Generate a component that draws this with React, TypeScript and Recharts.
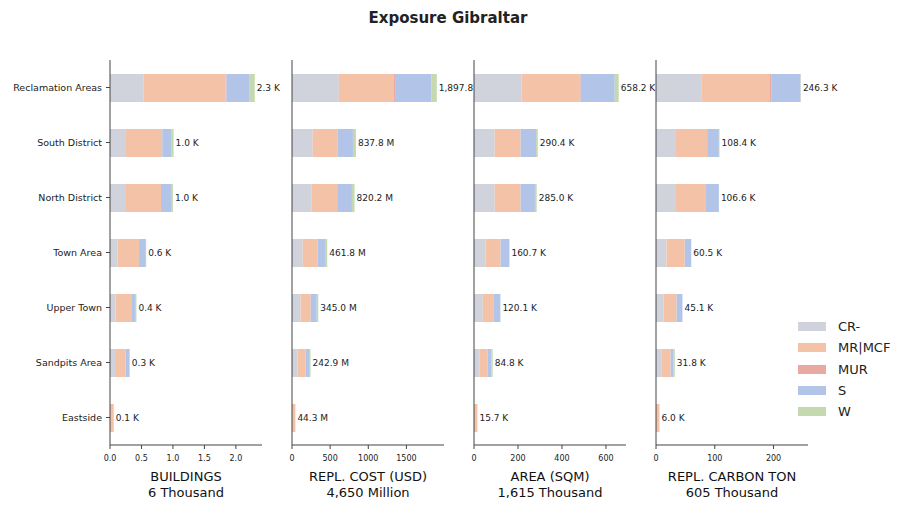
import { BarChart, Bar, XAxis, YAxis, LabelList } from 'recharts'

const categories = [
  'Reclamation Areas',
  'South District',
  'North District',
  'Town Area',
  'Upper Town',
  'Sandpits Area',
  'Eastside',
]

const seriesNames = ['CR-', 'MR|MCF', 'MUR', 'S', 'W']

const SERIES_COLORS: Record<string, string> = {
  'CR-': '#d0d3dc',
  'MR|MCF': '#f4c3a7',
  MUR: '#e8a9a3',
  S: '#b2c5e8',
  W: '#c5d9b1',
}

// buildings, thousands
const buildingsCR = [0.53, 0.24, 0.24, 0.12, 0.09, 0.08, 0]
const buildingsMR = [1.31, 0.59, 0.57, 0.34, 0.26, 0.17, 0.06]
const buildingsMUR = [0.01, 0, 0, 0, 0, 0, 0]
const buildingsS = [0.37, 0.15, 0.16, 0.11, 0.06, 0.06, 0]
const buildingsW = [0.08, 0.03, 0.03, 0.005, 0.01, 0.005, 0]
const buildingsTotal = [2.3, 1.0, 1.0, 0.6, 0.4, 0.3, 0.1]

// replacement cost, million USD
const costCR = [614, 272, 259, 141, 114, 71, 0]
const costMR = [724, 329, 333, 197, 132, 109, 44.3]
const costMUR = [13, 0, 0, 0, 0, 0, 0]
const costS = [474, 198, 194, 105, 79, 53, 0]
const costW = [73, 39, 34, 19, 20, 10, 0]
const costTotal = [1897.8, 837.8, 820.2, 461.8, 345.0, 242.9, 44.3]

// area, thousand sqm
const areaCR = [217, 94, 94, 52, 40, 26, 0]
const areaMR = [263, 118, 118, 69, 48, 35, 15.7]
const areaMUR = [5, 0, 0, 0, 0, 0, 0]
const areaS = [155, 70, 65, 40, 32, 19, 0]
const areaW = [18, 8, 8, 0, 0, 5, 0]
const areaTotal = [658.2, 290.4, 285.0, 160.7, 120.1, 84.8, 15.7]

// replacement carbon, thousand ton
const carbonCR = [78, 34, 34, 18, 13, 10, 0]
const carbonMR = [116, 53, 51, 31, 22, 15, 6]
const carbonMUR = [2, 0, 0, 0, 0, 0, 0]
const carbonS = [50, 20, 22, 11, 10, 5, 0]
const carbonW = [0.5, 1, 0, 0, 0, 2, 0]
const carbonTotal = [246.3, 108.4, 106.6, 60.5, 45.1, 31.8, 6.0]

const buildingsTicks = [0, 0.5, 1, 1.5, 2]
const costTicks = [0, 500, 1000, 1500]
const areaTicks = [0, 200, 400, 600]
const carbonTicks = [0, 100, 200]

const FONT = '"DejaVu Sans", sans-serif'
const PLOT_TOP = 60
const PLOT_BOTTOM = 445
const PLOT_W = 152
const CHART_H = 510

function buildRows(cols: number[][]) {
  return categories.map((name, i) => {
    const row: Record<string, string | number> = { name }
    seriesNames.forEach((s, j) => {
      row[s] = cols[j][i]
    })
    return row
  })
}

// y tick without recharts' word wrapping
function NameTick(props: any) {
  const { x, y, payload } = props
  return (
    <text x={x} y={y} textAnchor="end" dominantBaseline="central" fontSize={9.5} fill="#222" fontFamily={FONT}>
      {payload.value}
    </text>
  )
}

interface PanelProps {
  left: number
  cols: number[][]
  totals: number[]
  ticks: number[]
  tickFmt: (v: number) => string
  labelFmt: (v: number) => string
  title: string
  subtitle: string
  showNames?: boolean
}

function Panel({ left, cols, totals, ticks, tickFmt, labelFmt, title, subtitle, showNames }: PanelProps) {
  const rows = buildRows(cols)
  const yW = showNames ? left : 20
  const max = Math.max(...totals) * 1.05

  const renderTotal = (props: any) => {
    const { x, y, width, height, index } = props
    return (
      <text
        x={Number(x) + Number(width) + 2}
        y={Number(y) + Number(height) / 2}
        dominantBaseline="central"
        fontSize={9}
        fill="#222"
        fontFamily={FONT}
      >
        {labelFmt(totals[index])}
      </text>
    )
  }

  return (
    <>
      {!showNames && (
        <div
          style={{
            position: 'absolute',
            left,
            top: PLOT_TOP,
            width: PLOT_W,
            height: PLOT_BOTTOM - PLOT_TOP,
            background: '#fff',
          }}
        />
      )}
      <div style={{ position: 'absolute', left: left - yW, top: 0 }}>
        <BarChart
          layout="vertical"
          width={yW + PLOT_W + 70}
          height={CHART_H}
          data={rows}
          barSize={28}
          margin={{ top: PLOT_TOP, right: 70, bottom: 0, left: 0 }}
          style={{ fontFamily: FONT }}
        >
          <XAxis
            type="number"
            domain={[0, max]}
            ticks={ticks}
            tickFormatter={tickFmt}
            allowDataOverflow
            height={CHART_H - PLOT_BOTTOM}
            stroke="#444"
            tickSize={4}
            tickMargin={6}
            tick={{ fontSize: 8, fill: '#222' }}
          />
          <YAxis
            type="category"
            dataKey="name"
            width={yW}
            stroke="#444"
            tickSize={4}
            tickMargin={4}
            tick={showNames ? <NameTick /> : false}
          />
          {seriesNames.map((s) => (
            <Bar key={s} dataKey={s} stackId="a" fill={SERIES_COLORS[s]} isAnimationActive={false} />
          ))}
          {/* invisible carrier at the end of each stack for the total labels */}
          <Bar
            dataKey={() => 0}
            stackId="a"
            fill="none"
            minPointSize={0.01}
            isAnimationActive={false}
            legendType="none"
          >
            <LabelList content={renderTotal} />
          </Bar>
        </BarChart>
      </div>
      <div
        style={{
          position: 'absolute',
          left,
          top: 469,
          width: PLOT_W,
          textAlign: 'center',
          fontSize: 13,
          lineHeight: '16px',
          color: '#111',
        }}
      >
        {title}
        <br />
        {subtitle}
      </div>
    </>
  )
}

const fmtK = (v: number) => `${v.toFixed(1)} K`
const fmtM = (v: number) =>
  `${v.toLocaleString('en-US', { minimumFractionDigits: 1, maximumFractionDigits: 1 })} M`

export default function App() {
  return (
    <div
      style={{
        position: 'absolute',
        left: 0,
        top: 0,
        width: 908,
        height: 510,
        background: '#fff',
        fontFamily: FONT,
        overflow: 'hidden',
      }}
    >
      <div
        style={{
          position: 'absolute',
          left: 0,
          width: 896,
          top: 9,
          textAlign: 'center',
          fontSize: 15,
          fontWeight: 'bold',
          color: '#222',
        }}
      >
        Exposure Gibraltar
      </div>
      <Panel
        left={110}
        cols={[buildingsCR, buildingsMR, buildingsMUR, buildingsS, buildingsW]}
        totals={buildingsTotal}
        ticks={buildingsTicks}
        tickFmt={(v) => v.toFixed(1)}
        labelFmt={fmtK}
        title="BUILDINGS"
        subtitle="6 Thousand"
        showNames
      />
      <Panel
        left={292}
        cols={[costCR, costMR, costMUR, costS, costW]}
        totals={costTotal}
        ticks={costTicks}
        tickFmt={(v) => String(v)}
        labelFmt={fmtM}
        title="REPL. COST (USD)"
        subtitle="4,650 Million"
      />
      <Panel
        left={474}
        cols={[areaCR, areaMR, areaMUR, areaS, areaW]}
        totals={areaTotal}
        ticks={areaTicks}
        tickFmt={(v) => String(v)}
        labelFmt={fmtK}
        title="AREA (SQM)"
        subtitle="1,615 Thousand"
      />
      <Panel
        left={656}
        cols={[carbonCR, carbonMR, carbonMUR, carbonS, carbonW]}
        totals={carbonTotal}
        ticks={carbonTicks}
        tickFmt={(v) => String(v)}
        labelFmt={fmtK}
        title="REPL. CARBON TON"
        subtitle="605 Thousand"
      />
      <div style={{ position: 'absolute', left: 798, top: 316 }}>
        {seriesNames.map((s) => (
          <div key={s} style={{ display: 'flex', alignItems: 'center', height: 21.3 }}>
            <div style={{ width: 28, height: 9, background: SERIES_COLORS[s], marginRight: 12 }} />
            <span style={{ fontSize: 13, color: '#222' }}>{s}</span>
          </div>
        ))}
      </div>
    </div>
  )
}
